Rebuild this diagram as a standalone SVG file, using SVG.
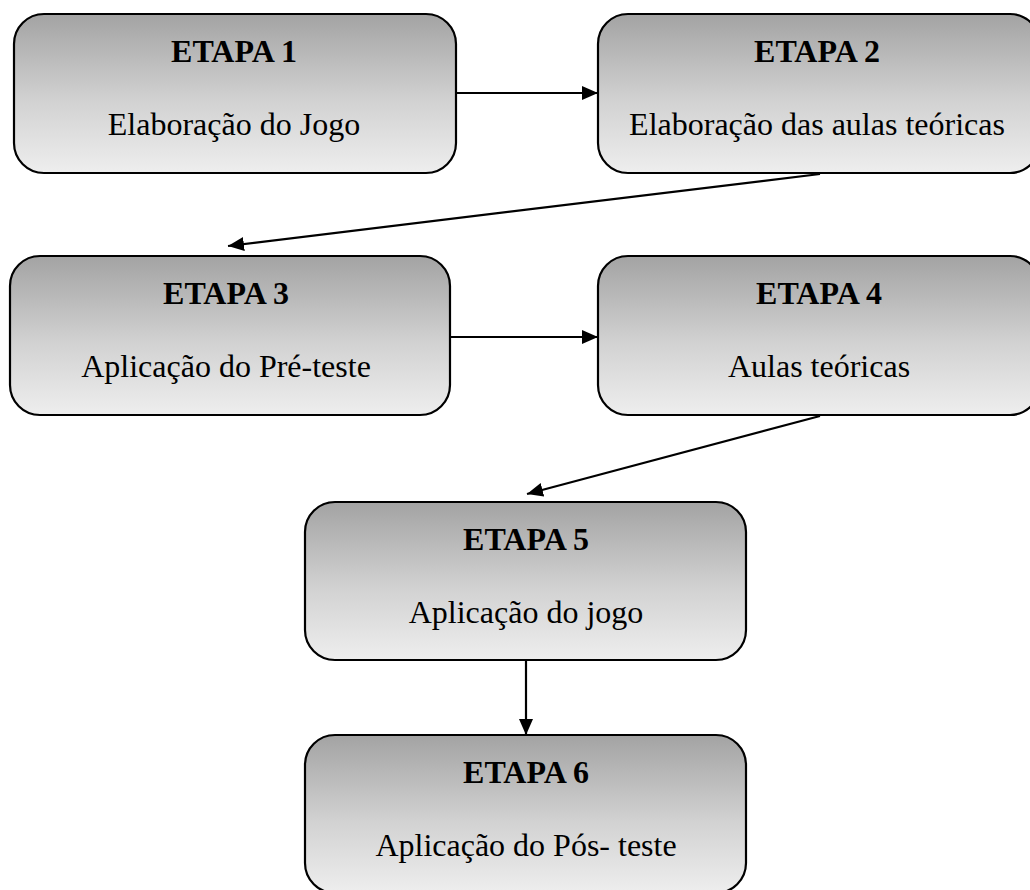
<svg xmlns="http://www.w3.org/2000/svg" width="1030" height="890" viewBox="0 0 1030 890">
<style>
.box{stroke:#000;stroke-width:2.2;fill:url(#g)}
.h{font-family:"Liberation Serif","Times New Roman",serif;font-size:32px;font-weight:bold;text-anchor:middle;fill:#000}
.t{font-family:"Liberation Serif","Times New Roman",serif;font-size:32px;text-anchor:middle;fill:#000}
.c{stroke:#000;stroke-width:2.2;fill:none;marker-end:url(#a)}
</style>
<defs>
<linearGradient id="g" x1="0" y1="0" x2="0" y2="1">
<stop offset="0" stop-color="#a3a3a3"/>
<stop offset="0.55" stop-color="#d2d2d2"/>
<stop offset="1" stop-color="#eeeeee"/>
</linearGradient>
<marker id="a" markerUnits="userSpaceOnUse" markerWidth="18" markerHeight="14" refX="16" refY="7" orient="auto">
<path d="M0,0 L16,7 L0,14 Z" fill="#000"/>
</marker>
</defs>
<g id="connectors">
<line class="c" x1="456" y1="93" x2="598" y2="93"/>
<line class="c" x1="820" y1="174" x2="228" y2="246"/>
<line class="c" x1="450" y1="337" x2="598" y2="337"/>
<line class="c" x1="820" y1="416" x2="527" y2="494"/>
<line class="c" x1="526" y1="660" x2="526" y2="735"/>
</g>
<g id="etapa1">
<rect class="box" x="14" y="14" width="442" height="159" rx="30"/>
<text class="h" x="234" y="62">ETAPA 1</text>
<text class="t" x="234" y="135">Elaboração do Jogo</text>
</g>
<g id="etapa2">
<rect class="box" x="598" y="14" width="442" height="159" rx="30"/>
<text class="h" x="817" y="62">ETAPA 2</text>
<text class="t" x="817" y="135">Elaboração das aulas teóricas</text>
</g>
<g id="etapa3">
<rect class="box" x="10" y="256" width="440" height="159" rx="30"/>
<text class="h" x="226" y="304">ETAPA 3</text>
<text class="t" x="226" y="377">Aplicação do Pré-teste</text>
</g>
<g id="etapa4">
<rect class="box" x="598" y="256" width="442" height="159" rx="30"/>
<text class="h" x="819" y="304">ETAPA 4</text>
<text class="t" x="819" y="377">Aulas teóricas</text>
</g>
<g id="etapa5">
<rect class="box" x="305" y="502" width="441" height="158" rx="30"/>
<text class="h" x="526" y="550">ETAPA 5</text>
<text class="t" x="526" y="623">Aplicação do jogo</text>
</g>
<g id="etapa6">
<rect class="box" x="305" y="735" width="441" height="158" rx="30"/>
<text class="h" x="526" y="783">ETAPA 6</text>
<text class="t" x="526" y="856">Aplicação do Pós- teste</text>
</g>
</svg>
